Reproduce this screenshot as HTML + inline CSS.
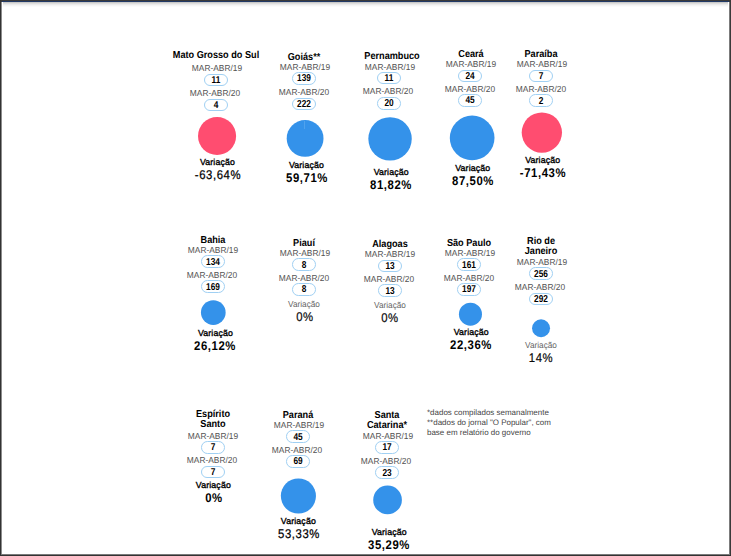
<!DOCTYPE html><html><head><meta charset="utf-8"><title>Variação</title><style>
html,body{margin:0;padding:0;text-rendering:geometricPrecision;}
body{width:731px;height:556px;overflow:hidden;background:#fff;font-family:"Liberation Sans",sans-serif;position:relative;}
#frame{position:absolute;left:0;top:0;width:731px;height:556px;box-sizing:border-box;pointer-events:none;z-index:5}
.bt0{position:absolute;left:0;top:0;width:731px;height:1px;background:#3a3a3a}
.bt1{position:absolute;left:1px;top:1px;width:729px;height:1px;background:linear-gradient(90deg,#34363c 0,#34363c 1px,#213a67 1px,#213a67 728px,#383838 728px)}
.grad{position:absolute;left:3px;top:2px;width:725px;height:5px;background:linear-gradient(#c9c9c7 0,#c9c9c7 1px,#dddddd 1px,#dddddd 2px,#ebebeb 2px,#ebebeb 3px,#f5f5f5 3px,#f5f5f5 4px,#fbfbfb 4px,#fbfbfb 5px)}
.bl0{position:absolute;left:0;top:0;width:1px;height:556px;background:#333}
.bl1{position:absolute;left:1px;top:2px;width:1px;height:554px;background:#8c8c8c}
.br0{position:absolute;left:730px;top:0;width:1px;height:556px;background:#3a3a3a}
.br1{position:absolute;left:729px;top:2px;width:1px;height:554px;background:#7c7c7c}
.bb0{position:absolute;left:0;top:555px;width:731px;height:1px;background:#333}
.bb1{position:absolute;left:1px;top:554px;width:729px;height:1px;background:#7a7a7a}
.t{position:absolute;white-space:nowrap;transform:translate(-50%,-50%);line-height:1;}
.ti{font-weight:bold;font-size:10.1px;color:#000;transform:translate(-50%,-50%) scaleX(0.906)}
.lb{font-size:8.7px;color:#525252;transform:translate(-50%,-50%) scaleX(0.965)}
.pl{position:absolute;box-sizing:border-box;width:24px;height:12.8px;border:1px solid #a0d0f3;border-radius:6.4px;margin-left:-12px;margin-top:-6.4px;}
.pn{font-weight:bold;font-size:10.0px;color:#000;transform:translate(-50%,-50%) scaleX(0.83)}
.vb{font-size:8.75px;color:#000;-webkit-text-stroke:0.35px #000;letter-spacing:0.15px}
.vn{font-size:8.7px;color:#666;transform:translate(-50%,-50%) scaleX(0.945)}
.pb{font-size:12.6px;color:#000;font-weight:bold;letter-spacing:0.64px;transform:translate(-50%,-50%) scaleX(0.9)}
.pm{font-size:12.6px;color:#000;-webkit-text-stroke:0.25px #000;letter-spacing:0.64px;transform:translate(-50%,-50%) scaleX(0.9)}
.pp{font-size:12.6px;color:#0a0a0a;-webkit-text-stroke:0.2px #0a0a0a;letter-spacing:0.64px;transform:translate(-50%,-50%) scaleX(0.9)}
.c{position:absolute;border-radius:50%;transform:translate(-50%,-50%)}
.note{position:absolute;left:427px;top:407.5px;font-size:7.97px;line-height:10.4px;color:#444;white-space:nowrap}
</style></head><body>
<div id="frame"><div class="grad"></div><div class="bt0"></div><div class="bt1"></div><div class="bl0"></div><div class="bl1"></div><div class="br0"></div><div class="br1"></div><div class="bb0"></div><div class="bb1"></div></div>
<div class="t ti" style="left:216px;top:56.3px">Mato Grosso do Sul</div>
<div class="t lb" style="left:216.7px;top:67.7px">MAR-ABR/19</div>
<div class="pl" style="left:216px;top:80px"></div>
<div class="t pn" style="left:216px;top:81.0px">11</div>
<div class="t lb" style="left:214.9px;top:93.4px">MAR-ABR/20</div>
<div class="pl" style="left:216px;top:105px"></div>
<div class="t pn" style="left:216px;top:106.0px">4</div>
<div class="t vb" style="left:217.5px;top:161.8px">Variação</div>
<div class="t pm" style="left:217.9px;top:175.2px">-63,64%</div>
<div class="t ti" style="left:304.0px;top:58.4px">Goiás**</div>
<div class="t lb" style="left:304.5px;top:67.4px">MAR-ABR/19</div>
<div class="pl" style="left:304px;top:78.5px"></div>
<div class="t pn" style="left:304px;top:78.6px">139</div>
<div class="t lb" style="left:304.0px;top:92.4px">MAR-ABR/20</div>
<div class="pl" style="left:304px;top:104px"></div>
<div class="t pn" style="left:304px;top:105.0px">222</div>
<div class="t vb" style="left:306.5px;top:165.1px">Variação</div>
<div class="t pb" style="left:306.5px;top:178px">59,71%</div>
<div class="t ti" style="left:392px;top:57.1px">Pernambuco</div>
<div class="t lb" style="left:389.9px;top:66.9px">MAR-ABR/19</div>
<div class="pl" style="left:388.9px;top:77.9px"></div>
<div class="t pn" style="left:388.9px;top:78.9px">11</div>
<div class="t lb" style="left:387.9px;top:90.5px">MAR-ABR/20</div>
<div class="pl" style="left:388.9px;top:103.1px"></div>
<div class="t pn" style="left:388.9px;top:104.1px">20</div>
<div class="t vb" style="left:391.2px;top:172.1px">Variação</div>
<div class="t pb" style="left:391.2px;top:184.6px">81,82%</div>
<div class="t ti" style="left:470.9px;top:55.2px">Ceará</div>
<div class="t lb" style="left:471.1px;top:63.9px">MAR-ABR/19</div>
<div class="pl" style="left:470.2px;top:76.0px"></div>
<div class="t pn" style="left:470.2px;top:77.0px">24</div>
<div class="t lb" style="left:469.9px;top:89.4px">MAR-ABR/20</div>
<div class="pl" style="left:470.2px;top:100.3px"></div>
<div class="t pn" style="left:470.2px;top:101.3px">45</div>
<div class="t vb" style="left:472.8px;top:168.2px">Variação</div>
<div class="t pb" style="left:472.8px;top:181px">87,50%</div>
<div class="t ti" style="left:540.9px;top:55.1px">Paraíba</div>
<div class="t lb" style="left:542.1px;top:63.9px">MAR-ABR/19</div>
<div class="pl" style="left:541.1px;top:76.0px"></div>
<div class="t pn" style="left:541.1px;top:77.0px">7</div>
<div class="t lb" style="left:540.7px;top:89.4px">MAR-ABR/20</div>
<div class="pl" style="left:541.1px;top:100.8px"></div>
<div class="t pn" style="left:541.1px;top:101.8px">2</div>
<div class="t vb" style="left:542.7px;top:160.1px">Variação</div>
<div class="t pb" style="left:543px;top:173.2px">-71,43%</div>
<div class="t ti" style="left:213px;top:240.5px">Bahia</div>
<div class="t lb" style="left:213px;top:249.9px">MAR-ABR/19</div>
<div class="pl" style="left:213px;top:261.5px"></div>
<div class="t pn" style="left:213px;top:262.5px">134</div>
<div class="t lb" style="left:212.2px;top:275.4px">MAR-ABR/20</div>
<div class="pl" style="left:213px;top:286.5px"></div>
<div class="t pn" style="left:213px;top:287.5px">169</div>
<div class="t vb" style="left:215.5px;top:333.0px">Variação</div>
<div class="t pb" style="left:215.3px;top:345.5px">26,12%</div>
<div class="t ti" style="left:304.3px;top:243.5px">Piauí</div>
<div class="t lb" style="left:304.65px;top:252.9px">MAR-ABR/19</div>
<div class="pl" style="left:304px;top:264.5px"></div>
<div class="t pn" style="left:304px;top:265.5px">8</div>
<div class="t lb" style="left:303.5px;top:278.4px">MAR-ABR/20</div>
<div class="pl" style="left:304px;top:289.3px"></div>
<div class="t pn" style="left:304px;top:290.3px">8</div>
<div class="t vn" style="left:304px;top:303.7px">Variação</div>
<div class="t pp" style="left:304.6px;top:317px">0%</div>
<div class="t ti" style="left:390px;top:244.8px">Alagoas</div>
<div class="t lb" style="left:390.25px;top:254.1px">MAR-ABR/19</div>
<div class="pl" style="left:390px;top:265.9px"></div>
<div class="t pn" style="left:390px;top:266.9px">13</div>
<div class="t lb" style="left:388.8px;top:279.4px">MAR-ABR/20</div>
<div class="pl" style="left:390px;top:290.7px"></div>
<div class="t pn" style="left:390px;top:291.7px">13</div>
<div class="t vn" style="left:390px;top:305.2px">Variação</div>
<div class="t pp" style="left:390px;top:318px">0%</div>
<div class="t ti" style="left:469.4px;top:244.1px">São Paulo</div>
<div class="t lb" style="left:469.5px;top:253.4px">MAR-ABR/19</div>
<div class="pl" style="left:469.2px;top:264.6px"></div>
<div class="t pn" style="left:469.2px;top:265.6px">161</div>
<div class="t lb" style="left:469.4px;top:278.4px">MAR-ABR/20</div>
<div class="pl" style="left:469.2px;top:289.2px"></div>
<div class="t pn" style="left:469.2px;top:290.2px">197</div>
<div class="t vb" style="left:471.3px;top:332.2px">Variação</div>
<div class="t pb" style="left:471.1px;top:344.8px">22,36%</div>
<div class="t ti" style="left:541px;top:241.8px">Rio de</div>
<div class="t ti" style="left:541px;top:251.8px">Janeiro</div>
<div class="t lb" style="left:541.65px;top:262.4px">MAR-ABR/19</div>
<div class="pl" style="left:540.7px;top:273.6px"></div>
<div class="t pn" style="left:540.7px;top:274.6px">256</div>
<div class="t lb" style="left:540.2px;top:287.4px">MAR-ABR/20</div>
<div class="pl" style="left:540.7px;top:299px"></div>
<div class="t pn" style="left:540.7px;top:300.0px">292</div>
<div class="t vn" style="left:541px;top:345.3px">Variação</div>
<div class="t pp" style="left:541px;top:358px">14%</div>
<div class="t ti" style="left:212.6px;top:415.0px">Espírito</div>
<div class="t ti" style="left:213px;top:425.2px">Santo</div>
<div class="t lb" style="left:213px;top:436.4px">MAR-ABR/19</div>
<div class="pl" style="left:212.6px;top:447.2px"></div>
<div class="t pn" style="left:212.6px;top:447.5px">7</div>
<div class="t lb" style="left:211.8px;top:460.4px">MAR-ABR/20</div>
<div class="pl" style="left:212.6px;top:472px"></div>
<div class="t pn" style="left:212.6px;top:473.0px">7</div>
<div class="t vb" style="left:213.4px;top:484.8px">Variação</div>
<div class="t pb" style="left:213.8px;top:498px">0%</div>
<div class="t ti" style="left:298px;top:416.0px">Paraná</div>
<div class="t lb" style="left:298.7px;top:425.4px">MAR-ABR/19</div>
<div class="pl" style="left:298px;top:436.5px"></div>
<div class="t pn" style="left:298px;top:437.5px">45</div>
<div class="t lb" style="left:297.1px;top:450.4px">MAR-ABR/20</div>
<div class="pl" style="left:298px;top:461.5px"></div>
<div class="t pn" style="left:298px;top:461.9px">69</div>
<div class="t vb" style="left:298.4px;top:521.0px">Variação</div>
<div class="t pm" style="left:298.5px;top:534px">53,33%</div>
<div class="t ti" style="left:387px;top:416.0px">Santa</div>
<div class="t ti" style="left:386.5px;top:426.2px">Catarina*</div>
<div class="t lb" style="left:387.9px;top:436.4px">MAR-ABR/19</div>
<div class="pl" style="left:386.5px;top:447.5px"></div>
<div class="t pn" style="left:386.5px;top:447.8px">17</div>
<div class="t lb" style="left:385.8px;top:461.4px">MAR-ABR/20</div>
<div class="pl" style="left:386.5px;top:472.5px"></div>
<div class="t pn" style="left:386.5px;top:473.5px">23</div>
<div class="t vb" style="left:389.2px;top:532.0px">Variação</div>
<div class="t pb" style="left:389px;top:545px">35,29%</div>
<svg width="731" height="556" style="position:absolute;left:0;top:0"><circle cx="217.05" cy="136.0" r="19.05" fill="#ff4d70"/><circle cx="305.1" cy="138.4" r="18.4" fill="#3492ea"/><circle cx="390.05" cy="138.85" r="21.7" fill="#3492ea"/><circle cx="472.15" cy="137.95" r="22.35" fill="#3492ea"/><circle cx="541.85" cy="132.6" r="20.15" fill="#ff4d70"/><circle cx="213.3" cy="312.6" r="12.35" fill="#3492ea"/><circle cx="470.45" cy="314.2" r="11.5" fill="#3492ea"/><circle cx="541.05" cy="328.25" r="9.0" fill="#3492ea"/><circle cx="298.4" cy="496.0" r="17.55" fill="#3492ea"/><circle cx="387.55" cy="499.95" r="14.35" fill="#3492ea"/></svg>
<div style="position:absolute;left:304.2px;top:120.5px;width:0.8px;height:8px;background:#4fa2ed"></div>
<div class="note">*dados compilados semanalmente<br>**dados do jornal "O Popular", com<br>base em relatório do governo</div>
</body></html>
